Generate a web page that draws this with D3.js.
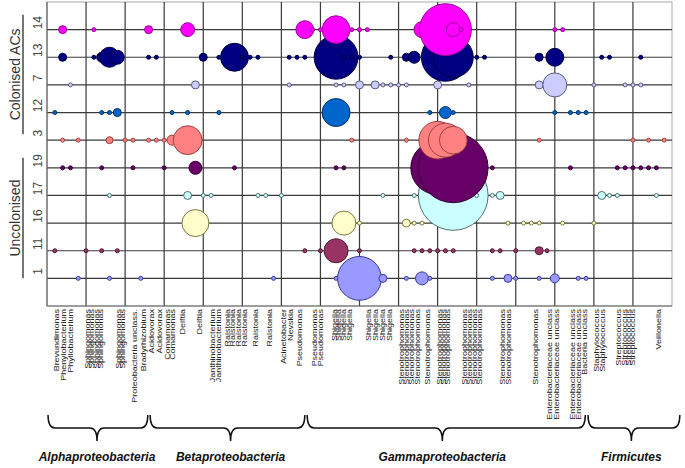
<!DOCTYPE html>
<html><head><meta charset="utf-8">
<script src="https://cdn.jsdelivr.net/npm/d3@7"></script>
<style>body{margin:0;background:#fff}svg{display:block}</style>
</head><body><svg id="c" width="685" height="468"></svg>
<script>
// ---------- DATA ----------
const rows = ["14","13","7","12","3","19","17","16","11","1"];
const xTicks = [5,10,15,20,25,30,35,40,45,50,55,60,65,70,75];

// each series: [taxon column (1..79), relative abundance]
const ac14 = [[2,1],[6,0.25],[13,1],[18,3],[33,5],[34,0.25],[35,0.25],[37,12],[39,0.25],[40,0.25],[41,0.25],[48,4],[51,42],[52,3],[53,0.25],[65,0.25],[66,0.25]];
const ac13 = [[2,1],[6,0.25],[7,1.56],[8,6.25],[9,3],[13,0.25],[14,0.25],[20,1],[22,0.25],[24,12.25],[25,0.25],[26,0.25],[27,0.25],[31,0.25],[32,0.25],[33,0.25],[37,30],[38,0.25],[39,0.25],[40,0.25],[44,0.25],[46,1],[47,2.25],[51,36],[52,25],[55,0.25],[56,0.25],[63,1],[65,5],[71,0.25],[72,0.25],[76,0.25]];
const ac7 = [[3,0.25],[19,1],[31,0.25],[37,0.25],[38,0.25],[40,1],[42,1],[43,0.25],[44,0.25],[45,0.25],[46,0.25],[50,1],[54,0.25],[63,1],[65,9],[70,0.25],[74,0.25],[75,0.25],[76,0.25]];
const ac12 = [[1,0.25],[7,0.25],[8,0.25],[9,1],[16,0.25],[18,0.25],[22,0.25],[37,12.25],[49,0.25],[51,2.25],[52,0.25],[65,0.25],[67,0.25],[68,0.25],[69,0.25]];
const ac3 = [[2,0.25],[4,0.25],[8,0.77],[10,0.25],[11,0.25],[13,0.25],[14,0.25],[15,0.25],[16,1.56],[18,13],[39,0.25],[46,0.25],[50,22],[51,18],[52,12],[63,0.25],[75,0.25],[77,0.25],[79,0.25]];
const un19 = [[2,0.25],[3,0.25],[7,0.25],[11,0.25],[15,0.25],[19,2.64],[24,0.25],[37,0.25],[38,0.25],[50,45],[52,76],[57,0.25],[67,0.25],[73,0.25],[74,0.25],[75,0.25],[76,0.25],[77,0.25],[78,0.25]];
const un17 = [[8,0.25],[18,1],[20,0.25],[21,0.25],[27,0.25],[28,0.25],[30,0.25],[43,0.25],[47,0.25],[52,76],[55,0.25],[57,0.25],[58,1],[71,1],[72,0.25],[73,0.25],[78,0.25]];
const un16 = [[19,11.4],[38,9],[40,0.25],[46,1],[47,0.25],[48,0.25],[59,0.25],[61,0.25],[62,0.25],[63,0.25],[66,0.25],[70,0.25]];
const un11 = [[1,0.25],[5,0.25],[7,0.25],[9,0.25],[33,0.25],[35,0.25],[37,9],[40,0.25],[47,0.25],[48,0.25],[49,0.25],[50,0.25],[51,0.25],[52,0.25],[57,0.25],[58,0.25],[60,0.25],[63,1],[64,0.25]];
const un1 = [[4,0.25],[8,0.25],[12,0.25],[29,0.25],[37,0.25],[40,30],[43,1],[46,0.25],[48,2.64],[49,0.25],[57,0.25],[59,1],[60,0.25],[63,0.25],[65,1.27],[68,0.25],[69,0.25]];

const taxa = ["Brevundimonas","Phenylobacterium","Phyllobacterium",
 "Sphingomonas","Sphingomonas","Sphingomonas","Sphingomonas","Sphingomonas","Sphingomonas",
 "Proteobacteria unclass.","Bradyrhizobium","Acidovorax","Acidovorax","Comamonas","Comamonas",
 "Delftia","Delftia","Janthinobacterium","Janthinobacterium",
 "Ralstonia","Ralstonia","Ralstonia","Ralstonia","Ralstonia","Ralstonia",
 "Acinetobacter","Nevskia","Pseudomonas","Pseudomonas","Pseudomonas",
 "Shigella","Shigella","Shigella","Shigella","Shigella","Shigella","Shigella","Shigella",
 "Stenotrophomonas","Stenotrophomonas","Stenotrophomonas","Stenotrophomonas","Stenotrophomonas",
 "Stenotrophomonas","Stenotrophomonas","Stenotrophomonas",
 "Stenotrophomonas","Stenotrophomonas","Stenotrophomonas","Stenotrophomonas",
 "Stenotrophomonas","Stenotrophomonas","Stenotrophomonas",
 "Enterobacteriaceae unclass","Enterobacteriaceae unclass","Enterobacteriaceae unclass","Enterobacteriaceae unclass",
 "Bacteria unclass","Staphylococcus","Staphylococcus",
 "Streptococcus","Streptococcus","Streptococcus","Streptococcus","Veillonella"];
const taxaAt = [1.28,2.18,3.07,
 5.25,5.76,6.4,6.91,9.2,9.73,
 11.26,12.4,13.44,14.46,15.5,16.1,
 17.4,19.5,21.25,22.0,
 23.2,23.8,24.6,25.3,26.75,28.5,
 30.3,31.2,32.4,34.3,35.1,
 36.9,37.4,38.0,38.7,41.2,42.1,43.0,43.9,
 45.4,46.1,46.7,47.4,48.8,
 50.3,50.8,51.3,
 53.5,54.1,54.8,55.4,
 58.4,59.1,62.6,
 64.3,65.3,67.3,68.1,
 68.9,70.4,71.2,
 73.2,73.9,74.5,75.0,78.3];

const groups = ["Alphaproteobacteria","Betaproteobacteria","Gammaproteobacteria","Firmicutes"];
const groupFrom = [0.13, 13.2, 33.3, 69.25];
const groupTo = [12.9, 33.0, 68.9, 81.0];
const groupMid = [6.4, 23.5, 50.6, 74.8];

const sideLabels = ["Colonised ACs","Uncolonised"];
const sideFrom = ["14","19"], sideTo = ["3","1"];

// ---------- STYLE ----------
const seriesList = [["1",un1],["11",un11],["16",un16],["17",un17],["19",un19],["3",ac3],["12",ac12],["7",ac7],["13",ac13],["14",ac14]];
const fillOf = {"1":"#9999FF","11":"#993366","16":"#FFFFCC","17":"#CCFFFF","19":"#660066","3":"#FF8080","12":"#0066CC","7":"#CCCCFF","13":"#000080","14":"#FF00FF"};
const strokeOf = {"1":"#3a3a99","11":"#4d1a33","16":"#77773a","17":"#4d7070","19":"#330033","3":"#a04040","12":"#003366","7":"#5a5a80","13":"#000040","14":"#990099"};

// ---------- CHART ----------
const svg = d3.select("#c");
svg.append("rect").attr("width",685).attr("height",468).attr("fill","#fff");
const L = 47, R = 672, T = 2, B = 306;
const x = d3.scaleLinear().domain([0,80]).range([L,R]);
const y = d3.scalePoint().domain(rows).range([T,B]).padding(1);
const r = d3.scaleSqrt().domain([0,100]).range([0,40]);

const g = svg.append("g");
g.append("rect").attr("x",L).attr("y",T).attr("width",R-L).attr("height",B-T)
  .attr("fill","none").attr("stroke","#aaa").attr("stroke-width",1);
g.selectAll("line.v").data(xTicks).join("line").attr("class","v")
  .attr("x1",d=>x(d)).attr("x2",d=>x(d)).attr("y1",T).attr("y2",B)
  .attr("stroke","#3a3a3a").attr("stroke-width",1.2);
g.selectAll("line.h").data(rows).join("line").attr("class","h")
  .attr("x1",L).attr("x2",R).attr("y1",d=>y(d)).attr("y2",d=>y(d))
  .attr("stroke","#3a3a3a").attr("stroke-width",1.2);
g.append("line").attr("x1",L).attr("x2",L).attr("y1",T).attr("y2",B).attr("stroke","#666").attr("stroke-width",1.2);
g.append("line").attr("x1",L).attr("x2",R).attr("y1",B).attr("y2",B).attr("stroke","#666").attr("stroke-width",1.2);

seriesList.forEach(([key, arr]) => {
  g.append("g").selectAll("circle").data(arr).join("circle")
    .attr("cx",d=>x(d[0])).attr("cy",y(key)).attr("r",d=>r(d[1]))
    .attr("fill",fillOf[key]).attr("stroke",strokeOf[key]).attr("stroke-width",1);
});

svg.selectAll("text.yt").data(rows).join("text").attr("class","yt")
  .attr("transform",d=>`translate(38,${y(d)-7}) rotate(-90)`)
  .attr("text-anchor","middle").attr("dominant-baseline","central")
  .attr("font-family","Liberation Sans, Arial, sans-serif").attr("font-size",12)
  .attr("fill","#444").text(d=>d);

sideLabels.forEach((lab,i)=>{
  const y0 = y(sideFrom[i]) - 15 + (i===1?5:0), y1 = y(sideTo[i]) - 6 + (i===1?6:0);
  svg.append("line").attr("x1",23).attr("x2",23).attr("y1",y0).attr("y2",y1)
    .attr("stroke","#666").attr("stroke-width",1.8);
  svg.append("text").attr("transform",`translate(15,${(y0+y1)/2}) rotate(-90)`)
    .attr("text-anchor","middle").attr("dominant-baseline","central")
    .attr("font-family","Liberation Sans, Arial, sans-serif").attr("font-size",14)
    .attr("fill","#333").text(lab);
});

svg.selectAll("text.tx").data(taxa).join("text").attr("class","tx")
  .attr("transform",(d,i)=>`translate(${x(taxaAt[i])},309) rotate(-90) scale(1,0.8)`)
  .attr("text-anchor","end").attr("dominant-baseline","central")
  .attr("font-family","Liberation Sans, Arial, sans-serif").attr("font-size",9)
  .attr("fill","#222").text(d=>d);

function brace(x0,x1,xm,yTop,yMid,yTip){
  const q=7;
  return `M${x0},${yTop} Q${x0},${yMid} ${x0+q},${yMid} L${xm-q},${yMid} Q${xm},${yMid} ${xm},${yTip} Q${xm},${yMid} ${xm+q},${yMid} L${x1-q},${yMid} Q${x1},${yMid} ${x1},${yTop}`;
}
groups.forEach((name,i)=>{
  svg.append("path").attr("d",brace(x(groupFrom[i]),x(groupTo[i]),x(groupMid[i]),415,428,441))
    .attr("fill","none").attr("stroke","#111").attr("stroke-width",1.5);
  svg.append("text").attr("x",x(groupMid[i])).attr("y",461)
    .attr("text-anchor","middle").attr("font-family","Liberation Sans, Arial, sans-serif")
    .attr("font-size",12).attr("font-weight","bold").attr("font-style","italic")
    .attr("fill","#111").text(name);
});
</script></body></html>
